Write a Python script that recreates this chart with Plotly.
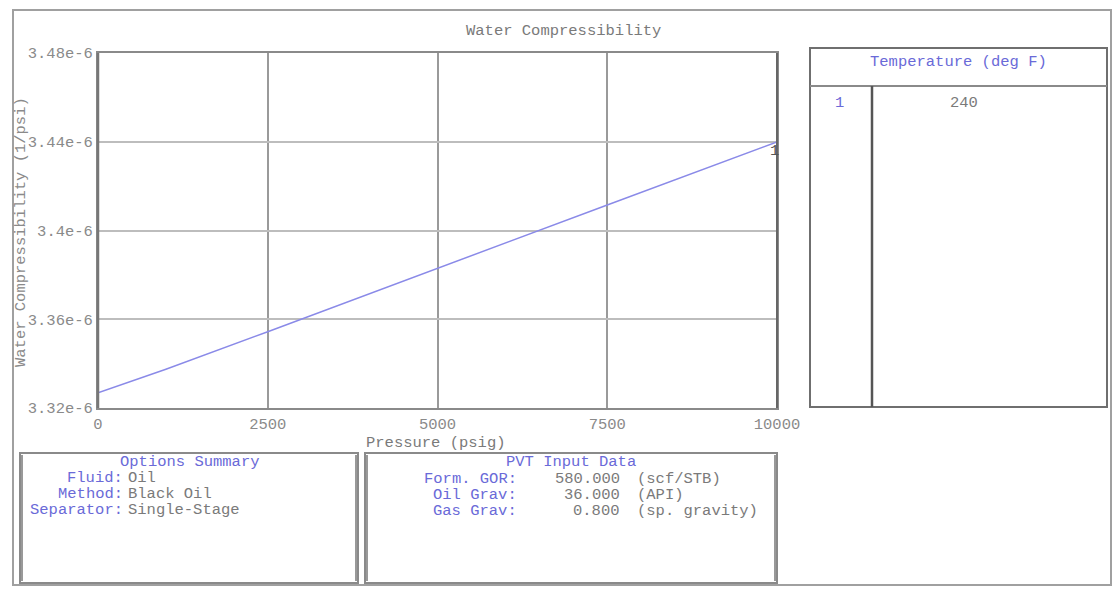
import plotly.graph_objects as go

W, H = 1114, 592

# ---- data ----
pressure = [0, 1000, 2500, 5000, 7500, 10000]
compressibility = [3.3268e-6, 3.3375e-6, 3.3544e-6, 3.3831e-6, 3.4115e-6, 3.4399e-6]
x_ticks = [0, 2500, 5000, 7500, 10000]
x_ticklabels = ["0", "2500", "5000", "7500", "10000"]
y_ticks = [3.32e-6, 3.36e-6, 3.40e-6, 3.44e-6, 3.48e-6]
y_ticklabels = ["3.32e-6", "3.36e-6", "3.4e-6", "3.44e-6", "3.48e-6"]
series_label = "1"

temp_header = "Temperature (deg F)"
temp_index = ["1"]
temp_values = ["240"]

options_title = "Options Summary"
options_labels = ["Fluid:", "Method:", "Separator:"]
options_values = ["Oil", "Black Oil", "Single-Stage"]

pvt_title = "PVT Input Data"
pvt_labels = ["Form. GOR:", "Oil Grav:", "Gas Grav:"]
pvt_values = ["580.000", "36.000", "0.800"]
pvt_units = ["(scf/STB)", "(API)", "(sp. gravity)"]

FONT = "Courier New, Liberation Mono, monospace"
FS = 15.5
GRAY = "#7a7a7a"
BLUE = "#6a6ad8"
LINE = "#8a8ae8"


def px(x):
    return x / W


def py(y):
    return 1 - y / H


# plot area in pixels
PL, PR, PT, PB = 98, 777, 53, 408

fig = go.Figure()
fig.add_trace(go.Scatter(x=pressure, y=compressibility, mode="lines",
                         line=dict(color=LINE, width=1.5), showlegend=False))

fig.update_layout(
    template="none",
    width=W, height=H, margin=dict(l=0, r=0, t=0, b=0, pad=0, autoexpand=False),
    paper_bgcolor="white", plot_bgcolor="white",
    font=dict(family=FONT, size=FS, color=GRAY),
    xaxis=dict(domain=[px(PL), px(PR)], range=[0, 10000], tickvals=x_ticks,
               ticktext=x_ticklabels, showgrid=True, gridcolor="#9a9a9a", gridwidth=1.5,
               showline=True, linecolor="#8a8a8a", linewidth=2, mirror=True,
               zeroline=False, ticks="", automargin=False,
               tickfont=dict(size=FS, color="#8a8a8a")),
    yaxis=dict(domain=[py(PB), py(PT)], range=[3.32e-6, 3.48e-6], tickvals=y_ticks,
               ticktext=y_ticklabels, showgrid=True, gridcolor="#bdbdbd", gridwidth=1.5,
               showline=True, linecolor="#8a8a8a", linewidth=2, mirror=True,
               zeroline=False, ticks="", automargin=False,
               tickfont=dict(size=FS, color="#8a8a8a")),
)

shapes = []
# outer frame
shapes.append(dict(type="rect", xref="paper", yref="paper", x0=px(13), x1=px(1111),
                   y0=py(585), y1=py(10), line=dict(color="#a0a0a0", width=2)))
# thicker left/right edges of plot area
shapes.append(dict(type="line", xref="paper", yref="paper", x0=px(PR), x1=px(PR),
                   y0=py(PB), y1=py(PT), line=dict(color="#666666", width=2)))
shapes.append(dict(type="line", xref="paper", yref="paper", x0=px(PL), x1=px(PL),
                   y0=py(PB), y1=py(PT), line=dict(color="#777777", width=2.5)))
# temperature table
TL, TR, TT, TB = 810, 1107, 48, 407
shapes.append(dict(type="rect", xref="paper", yref="paper", x0=px(TL), x1=px(TR),
                   y0=py(TB), y1=py(TT), line=dict(color="#6f6f6f", width=2)))
shapes.append(dict(type="line", xref="paper", yref="paper", x0=px(TL), x1=px(TR),
                   y0=py(86), y1=py(86), line=dict(color="#8a8a8a", width=2)))
shapes.append(dict(type="line", xref="paper", yref="paper", x0=px(872), x1=px(872),
                   y0=py(TB), y1=py(86), line=dict(color="#555555", width=2.5)))
# bottom boxes
for (x0, x1) in [(20, 358), (365, 777)]:
    shapes.append(dict(type="rect", xref="paper", yref="paper", x0=px(x0), x1=px(x1),
                       y0=py(583), y1=py(453), line=dict(color="#8a8a8a", width=2)))
    shapes.append(dict(type="line", xref="paper", yref="paper", x0=px(x0 + 2), x1=px(x0 + 2),
                       y0=py(581), y1=py(455), line=dict(color="#777777", width=1.5)))
    shapes.append(dict(type="line", xref="paper", yref="paper", x0=px(x1 - 2), x1=px(x1 - 2),
                       y0=py(581), y1=py(455), line=dict(color="#777777", width=1.5)))
fig.update_layout(shapes=shapes)

ann = []


def text(x, y, s, color=GRAY, xanchor="center", angle=0, size=FS):
    ann.append(dict(x=px(x), y=py(y), xref="paper", yref="paper", text=s, showarrow=False,
                    xanchor=xanchor, yanchor="middle", textangle=angle, borderpad=0,
                    font=dict(family=FONT, size=size, color=color)))


text(563, 31, "Water Compressibility")
text(21, 232, "Water Compressibility (1/psi)", color="#8a8a8a", angle=-90)
text(436, 443, "Pressure (psig)")
# series label at end of line
ann.append(dict(x=pressure[-1], y=compressibility[-1], xref="x", yref="y", text=series_label,
                showarrow=False, xanchor="left", yanchor="top", xshift=-9, yshift=2,
                font=dict(family=FONT, size=FS, color="#555555")))

# temperature table text
text(958, 62, temp_header, color=BLUE)
for i, (k, v) in enumerate(zip(temp_index, temp_values)):
    text(839, 103 + 16 * i, k, color=BLUE)
    text(964, 103 + 16 * i, v)

# options summary
text(190, 462, options_title, color=BLUE)
for i, (k, v) in enumerate(zip(options_labels, options_values)):
    y = 478 + 16 * i
    text(124, y, k, color=BLUE, xanchor="right")
    text(127, y, v, xanchor="left")

# PVT input data
text(571, 462, pvt_title, color=BLUE)
for i, (k, v, u) in enumerate(zip(pvt_labels, pvt_values, pvt_units)):
    y = 479 + 16 * i
    text(518, y, k, color=BLUE, xanchor="right")
    text(621, y, v, xanchor="right")
    text(636, y, u, xanchor="left")

fig.update_layout(annotations=ann)
fig.write_html("out.html", config={"displayModeBar": False},
               post_script="document.body.style.margin='0';document.body.style.overflow='hidden';")
